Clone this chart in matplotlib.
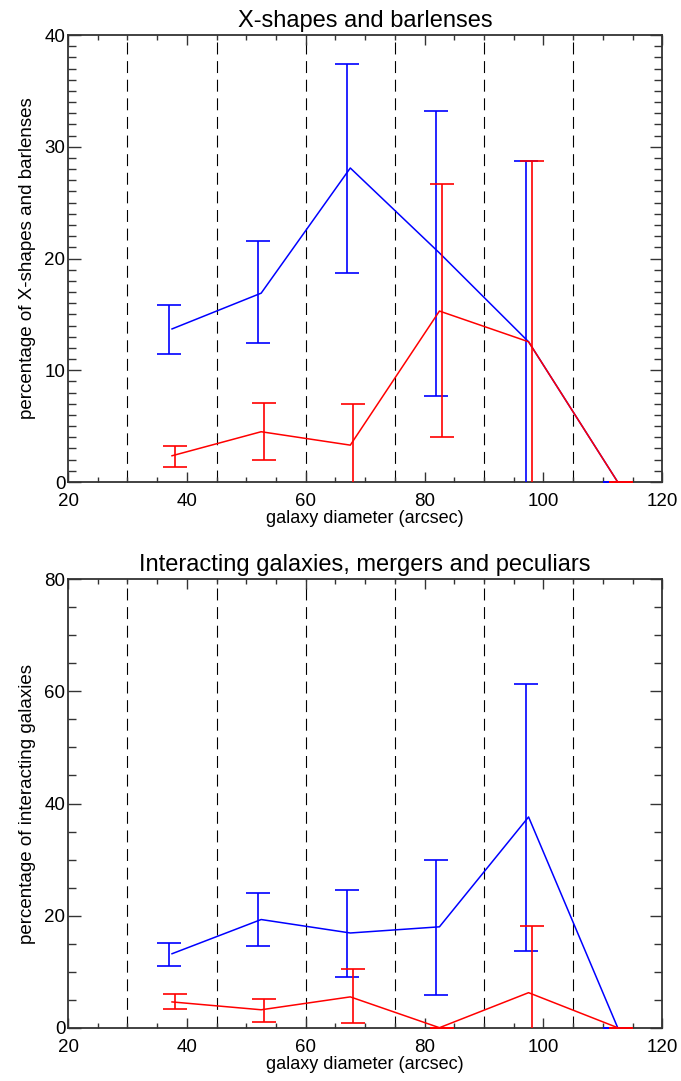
import numpy as np
import matplotlib
matplotlib.use('Agg')
import matplotlib.pyplot as plt
from matplotlib.ticker import MultipleLocator

# --- data ---
bin_centres = [37.5, 52.5, 67.5, 82.5, 97.5, 112.5]
bin_edges = [30, 45, 60, 75, 90, 105]

# X-shapes and barlenses (percent)
xs_blue = [13.7, 16.9, 28.1, 20.5, 12.55, 0.0]
xs_blue_lo = [11.5, 12.4, 18.7, 7.7, -3.6, 0.0]
xs_blue_hi = [15.8, 21.6, 37.4, 33.2, 28.7, 0.0]
xs_red = [2.35, 4.5, 3.3, 15.3, 12.55, 0.0]
xs_red_lo = [1.35, 2.0, -0.4, 4.0, -3.6, 0.0]
xs_red_hi = [3.25, 7.05, 7.0, 26.7, 28.7, 0.0]

# interacting galaxies, mergers and peculiars (percent)
int_blue = [13.2, 19.3, 16.9, 18.0, 37.6, 0.0]
int_blue_lo = [11.0, 14.5, 9.0, 5.9, 13.75, 0.0]
int_blue_hi = [15.2, 24.1, 24.6, 29.9, 61.3, 0.0]
int_red = [4.6, 3.2, 5.5, 0.0, 6.25, 0.0]
int_red_lo = [3.3, 0.95, 0.8, 0.0, -5.6, 0.0]
int_red_hi = [5.95, 5.2, 10.4, 0.0, 18.15, 0.0]

plt.rcParams['font.family'] = ['Liberation Sans', 'DejaVu Sans']
plt.rcParams['lines.scale_dashes'] = False

BLUE = '#0000ff'
RED = '#ff0000'
AXCOL = '#333333'

fig = plt.figure(figsize=(6.81, 10.81), dpi=100)
ax1 = fig.add_axes([0.0999, 0.5541, 0.8726, 0.4135])
ax2 = fig.add_axes([0.0999, 0.0493, 0.8726, 0.4148])


def draw_panel(ax, blue, blo, bhi, red, rlo, rhi, ymax, yminor, title, ylabel):
    x = np.array(bin_centres)
    for xe in bin_edges:
        ax.axvline(xe, color='black', lw=0.8, dashes=(8.6, 4.8), zorder=1)

    for vals, lo, hi, col, off in ((blue, blo, bhi, BLUE, -0.5), (red, rlo, rhi, RED, 0.5)):
        vals = np.array(vals)
        lo = np.array(lo)
        hi = np.array(hi)
        ax.plot(x, vals, color=col, lw=1.1, zorder=3)
        ax.errorbar(x + off, vals, yerr=[vals - lo, hi - vals], fmt='none',
                    ecolor=col, elinewidth=1.2, capsize=8.5, capthick=1.2, zorder=3)

    ax.set_xlim(20, 120)
    ax.set_ylim(0, ymax)
    ax.xaxis.set_major_locator(MultipleLocator(20))
    ax.xaxis.set_minor_locator(MultipleLocator(5))
    ax.yaxis.set_major_locator(MultipleLocator(ymax / 4))
    ax.yaxis.set_minor_locator(MultipleLocator(yminor))
    ax.tick_params(which='both', direction='in', top=True, right=True,
                   color=AXCOL, labelsize=13.5)
    ax.tick_params(axis='x', which='major', length=7, width=1, pad=8)
    ax.tick_params(axis='x', which='minor', length=3.5, width=1)
    ax.tick_params(axis='y', which='major', length=9, width=1, pad=2)
    ax.tick_params(axis='y', which='minor', length=6, width=1)
    for s in ax.spines.values():
        s.set_color(AXCOL)
        s.set_linewidth(1.3)
    ax.set_title(title, fontsize=17, pad=6)
    ax.set_xlabel('galaxy diameter (arcsec)', fontsize=13, labelpad=0)
    ax.set_ylabel(ylabel, fontsize=13.5, labelpad=6)


draw_panel(ax1, xs_blue, xs_blue_lo, xs_blue_hi, xs_red, xs_red_lo, xs_red_hi,
           40, 1, 'X-shapes and barlenses', 'percentage of X-shapes and barlenses')
draw_panel(ax2, int_blue, int_blue_lo, int_blue_hi, int_red, int_red_lo, int_red_hi,
           80, 5, 'Interacting galaxies, mergers and peculiars', 'percentage of interacting galaxies')

fig.savefig('out.png', dpi=100)
